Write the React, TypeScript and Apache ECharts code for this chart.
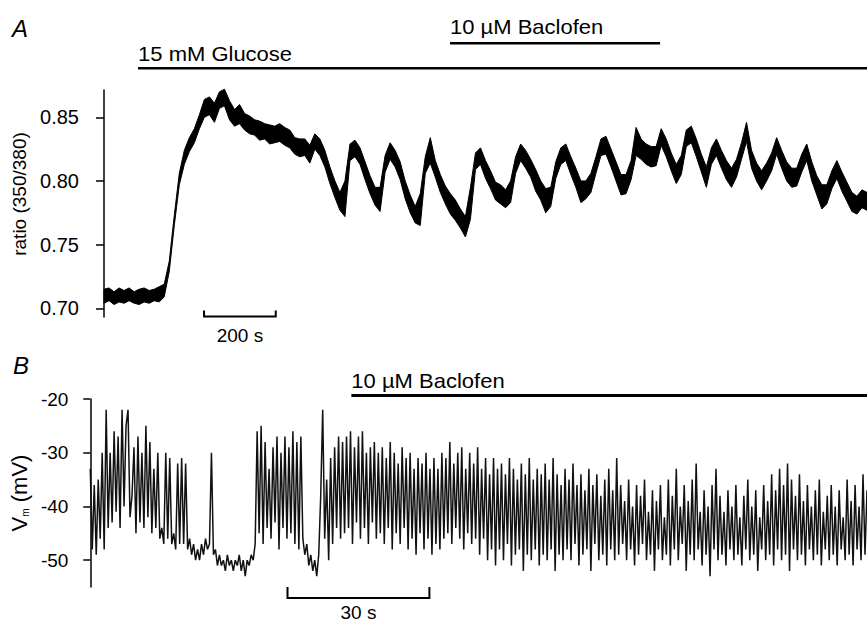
import React, { useEffect, useRef } from "react";
import * as echarts from "echarts";

// ---------- Panel A: Fura-2 ratio (350/380) ----------
const RATIO_DT = 14; // seconds between samples
// upper edge of the noisy trace
const RATIO_UPPER = [
  0.715, 0.716, 0.713, 0.716, 0.714, 0.716, 0.713, 0.715, 0.716, 0.714, 0.715, 0.717, 0.719,
  0.737, 0.773, 0.806, 0.824, 0.834, 0.841, 0.852, 0.864, 0.866, 0.861, 0.870, 0.872,
  0.863, 0.856, 0.860, 0.853, 0.851, 0.848, 0.847, 0.845, 0.844, 0.843, 0.845, 0.842, 0.840,
  0.834, 0.833, 0.833, 0.828, 0.837, 0.833, 0.824, 0.811, 0.800, 0.791, 0.800,
  0.829, 0.832, 0.826, 0.815, 0.804, 0.795, 0.795,
  0.820, 0.830, 0.824, 0.815, 0.800, 0.789, 0.780, 0.790,
  0.819, 0.834, 0.816, 0.805, 0.796, 0.790, 0.785, 0.778, 0.772, 0.795,
  0.822, 0.826, 0.816, 0.808, 0.799, 0.797, 0.793, 0.800,
  0.819, 0.829, 0.824, 0.817, 0.809, 0.800, 0.794, 0.795,
  0.815, 0.826, 0.829, 0.819, 0.810, 0.800, 0.800, 0.806,
  0.819, 0.833, 0.835, 0.825, 0.815, 0.805, 0.805, 0.816,
  0.842, 0.833, 0.829, 0.827, 0.827,
  0.841, 0.833, 0.822, 0.813, 0.820,
  0.840, 0.843, 0.833, 0.821, 0.811,
  0.826, 0.833, 0.824, 0.816, 0.810, 0.817, 0.830,
  0.846, 0.824, 0.814, 0.808, 0.814, 0.822, 0.834,
  0.824, 0.815, 0.810, 0.810, 0.821, 0.829,
  0.815, 0.804, 0.797, 0.797, 0.808, 0.816,
  0.807, 0.799, 0.791, 0.788, 0.793, 0.791,
];
// lower edge of the noisy trace
const RATIO_LOWER = [
  0.704, 0.706, 0.703, 0.705, 0.704, 0.706, 0.704, 0.703, 0.705, 0.704, 0.706, 0.705, 0.709,
  0.729, 0.765, 0.797, 0.813, 0.823, 0.830, 0.841, 0.850, 0.852, 0.846, 0.857, 0.859,
  0.848, 0.843, 0.845, 0.840, 0.837, 0.836, 0.832, 0.833, 0.829, 0.830, 0.831, 0.828, 0.826,
  0.821, 0.819, 0.820, 0.814, 0.825, 0.820, 0.811, 0.798, 0.787, 0.777, 0.772,
  0.816, 0.819, 0.813, 0.801, 0.790, 0.781, 0.776,
  0.807, 0.817, 0.811, 0.801, 0.786, 0.775, 0.767, 0.765,
  0.806, 0.814, 0.803, 0.791, 0.782, 0.774, 0.769, 0.763, 0.756, 0.770,
  0.809, 0.813, 0.802, 0.794, 0.785, 0.782, 0.779, 0.783,
  0.806, 0.816, 0.810, 0.803, 0.792, 0.785, 0.775, 0.780,
  0.802, 0.813, 0.816, 0.805, 0.795, 0.783, 0.786, 0.791,
  0.806, 0.820, 0.821, 0.811, 0.800, 0.789, 0.790, 0.801,
  0.820, 0.817, 0.813, 0.811, 0.812,
  0.828, 0.819, 0.808, 0.798, 0.805,
  0.827, 0.830, 0.819, 0.807, 0.795,
  0.813, 0.820, 0.810, 0.801, 0.795, 0.803, 0.817,
  0.831, 0.810, 0.800, 0.793, 0.800, 0.808, 0.821,
  0.810, 0.800, 0.795, 0.796, 0.807, 0.816,
  0.800, 0.789, 0.778, 0.782, 0.794, 0.802,
  0.792, 0.784, 0.776, 0.774, 0.779, 0.777,
];
const RATIO_TICKS = [0.7, 0.75, 0.8, 0.85];
const RATIO_MIN = 0.6932;
const RATIO_MAX = 0.8714;
const RATIO_T_START = -33.5; // axis begins a little before the recording
const RATIO_T_END = 2128;
const GLUCOSE_PERIOD = [95, 2128];
const BACLOFEN_A_PERIOD = [965, 1551];
const SCALE_A = [279, 479]; // 200 s

// ---------- Panel B: membrane potential ----------
const VM_DT = 0.42; // seconds between samples
const VM_VALUES = [
  -33, -48, -36, -49, -35, -46, -30, -48,
  -22, -44, -30, -43, -26, -41, -27, -44, -22, -40, -25, -22, -42, -38, -29, -45, -27, -43, -30, -44, -25, -42, -28, -45, -33, -44,
  -30, -46, -44, -47, -30, -46, -31, -47, -45, -48, -32, -47, -31,
  -47, -32, -48, -46, -49, -47, -50, -48, -50, -47, -49, -46, -48, -47, -30, -49, -48, -51, -49, -51,
  -50, -52, -49, -51, -50, -52, -50, -51, -49, -52, -50, -53, -50, -51, -49, -50, -47,
  -26, -45, -25, -47, -28, -44, -33, -46, -29, -43, -27, -48, -30, -44, -27, -46, -29, -45, -26, -47, -28, -48, -27,
  -46, -49, -47, -51, -49, -52, -50, -53, -49, -38,
  -22, -46, -35, -50, -31, -47, -29, -44, -27, -46, -28, -45, -27, -44, -26, -47, -29, -43, -27, -46,
  -26, -44, -30, -47, -29, -43, -28, -46, -30, -45, -29, -47, -31, -44, -28, -48, -30, -45, -32, -47,
  -29, -44, -31, -48, -30, -46, -33, -49, -31, -45, -32, -48, -30, -46, -33, -49, -31, -47, -33, -48,
  -30, -46,
  -31, -45, -28, -47, -32, -44, -30, -46, -29, -48, -33, -45, -30, -47, -32, -46, -29, -49, -33, -46,
  -31, -50, -34, -48, -31, -51, -33, -48, -32, -50, -34, -47, -31, -51, -33, -49, -35, -48, -32, -52,
  -34, -49, -31, -50, -35, -48, -33, -51, -34, -49, -32, -50, -35, -48, -31, -52, -34, -49, -36, -50,
  -33, -48, -35, -50, -32, -47, -36, -51, -34, -49, -37, -48, -33, -52, -36, -47, -34, -50, -38, -49,
  -35, -51, -33, -48, -37, -50, -31, -49, -36, -47, -39, -50, -35, -48, -40, -51, -36, -49, -38, -47,
  -35, -50, -41, -49, -37, -52, -39, -48, -36, -50, -42, -49, -35, -51, -38, -48, -33, -50, -40, -47,
  -36, -52, -39, -49, -35, -50, -32, -48, -41, -51, -37, -49, -40, -53, -36, -48, -33, -50, -38, -49,
  -41, -51, -37, -48, -40, -50, -36, -49, -42, -51, -38, -48, -35, -50, -40, -49, -37, -52, -42, -48,
  -36, -50, -39, -49, -34, -51, -37, -48, -33, -50, -36, -49, -32, -52, -35, -48, -38, -50, -34, -49,
  -39, -51, -36, -48, -40, -50, -37, -49, -35, -51, -41, -48, -38, -50, -36, -49, -40, -51, -37, -48,
  -42, -50, -35, -49, -39, -51, -36, -48, -40, -50, -34, -49, -37,
];
const VM_TICKS = [-20, -30, -40, -50];
const VM_MINOR_TICKS = [-25, -35, -45, -55];
const VM_MIN = -55;
const VM_MAX = -20;
const VM_T_START = -2.52; // axis begins a little before the recording
const VM_T_END = 164.22;
const BACLOFEN_B_PERIOD = [55.2, 164.22];
const SCALE_B = [41.7, 71.7]; // 30 s

const FONT = '"Liberation Sans", Arial, Helvetica, sans-serif';

function drugBar(label: string, yBar: number, yText: number, width: number) {
  return (params: any, api: any) => {
    const x0 = api.coord([api.value(0), api.value(1)])[0];
    const x1 = api.coord([api.value(1), api.value(1)])[0];
    return {
      type: "group",
      children: [
        {
          type: "line",
          shape: { x1: x0, y1: yBar, x2: x1, y2: yBar },
          style: { stroke: "#000", lineWidth: width },
        },
        {
          type: "text",
          x: x0,
          y: yText,
          scaleX: 1.1,
          style: {
            text: label,
            fill: "#000",
            fontSize: 20,
            fontFamily: FONT,
            align: "left",
            verticalAlign: "middle",
          },
        },
      ],
    };
  };
}

function scaleBar(label: string, yBar: number, tick: number, labelDy: number) {
  return (params: any, api: any) => {
    const x0 = api.coord([api.value(0), api.value(1)])[0];
    const x1 = api.coord([api.value(1), api.value(1)])[0];
    return {
      type: "group",
      children: [
        {
          type: "polyline",
          shape: {
            points: [
              [x0, yBar - tick],
              [x0, yBar],
              [x1, yBar],
              [x1, yBar - tick],
            ],
          },
          style: { stroke: "#000", lineWidth: 2, fill: null },
        },
        {
          type: "text",
          x: (x0 + x1) / 2,
          y: yBar + labelDy,
          style: {
            text: label,
            fill: "#000",
            fontSize: 19,
            fontFamily: FONT,
            align: "center",
            verticalAlign: "middle",
          },
        },
      ],
    };
  };
}

export default function App() {
  const ref = useRef<HTMLDivElement>(null);

  useEffect(() => {
    if (!ref.current) return;
    const chart = echarts.init(ref.current, null, { renderer: "svg" });

    const vmData = VM_VALUES.map((v, i) => [i * VM_DT, v]);

    const option: any = {
      animation: false,
      backgroundColor: "#fff",
      textStyle: { fontFamily: FONT },
      grid: [
        { left: 92, top: 90, width: 775, height: 227 },
        { left: 72, top: 399, width: 795, height: 188 },
      ],
      xAxis: [
        { type: "value", gridIndex: 0, min: RATIO_T_START, max: RATIO_T_END, show: false },
        { type: "value", gridIndex: 1, min: VM_T_START, max: VM_T_END, show: false },
      ],
      yAxis: [
        {
          type: "value",
          gridIndex: 0,
          min: RATIO_MIN,
          max: RATIO_MAX,
          axisLine: { show: true, lineStyle: { color: "#000", width: 1.5 } },
          axisTick: {
            show: true,
            length: 8,
            customValues: RATIO_TICKS,
            lineStyle: { color: "#000", width: 1.5 },
          },
          axisLabel: {
            customValues: RATIO_TICKS,
            formatter: (v: number) => v.toFixed(2),
            color: "#000",
            fontSize: 20,
            fontFamily: FONT,
            margin: 13,
          },
          splitLine: { show: false },
          name: "ratio (350/380)",
          nameLocation: "middle",
          nameRotate: 90,
          nameGap: 58,
          nameTextStyle: {
            color: "#000",
            fontSize: 19,
            fontFamily: FONT,
            padding: [0, 0, 0, 19],
          },
        },
        {
          type: "value",
          gridIndex: 1,
          min: VM_MIN,
          max: VM_MAX,
          axisLine: { show: true, lineStyle: { color: "#000", width: 1.5 } },
          axisTick: {
            show: true,
            length: 7,
            customValues: VM_TICKS,
            lineStyle: { color: "#000", width: 1.5 },
          },
          axisLabel: {
            customValues: VM_TICKS,
            color: "#000",
            fontSize: 19,
            fontFamily: FONT,
            margin: 10,
          },
          splitLine: { show: false },
          name: "{v|V}{s|m}{t| (mV)}",
          nameLocation: "middle",
          nameRotate: 90,
          nameGap: 45,
          nameTextStyle: {
            color: "#000",
            fontSize: 22,
            fontFamily: FONT,
            rich: {
              v: { fontSize: 22, fontFamily: FONT, color: "#000" },
              s: { fontSize: 10, fontFamily: FONT, color: "#000", verticalAlign: "bottom" },
              t: { fontSize: 22, fontFamily: FONT, color: "#000" },
            },
          },
        },
        {
          type: "value",
          gridIndex: 1,
          min: VM_MIN,
          max: VM_MAX,
          axisLine: { show: false },
          axisTick: {
            show: true,
            length: 4,
            customValues: VM_MINOR_TICKS,
            lineStyle: { color: "#000", width: 1.5 },
          },
          axisLabel: { show: false },
          splitLine: { show: false },
        },
      ],
      graphic: [
        {
          type: "text",
          x: 12,
          y: 28,
          style: {
            text: "A",
            fill: "#000",
            fontSize: 24,
            fontStyle: "italic",
            fontFamily: FONT,
            verticalAlign: "middle",
          },
        },
        {
          type: "text",
          x: 13,
          y: 365,
          style: {
            text: "B",
            fill: "#000",
            fontSize: 24,
            fontStyle: "italic",
            fontFamily: FONT,
            verticalAlign: "middle",
          },
        },
      ],
      series: [
        {
          type: "custom",
          name: "ratio",
          xAxisIndex: 0,
          yAxisIndex: 0,
          silent: true,
          clip: false,
          data: [[0, RATIO_UPPER[0]]],
          renderItem: (params: any, api: any) => {
            const up = RATIO_UPPER.map((v, i) => api.coord([i * RATIO_DT, v]));
            const lo = RATIO_LOWER.map((v, i) => api.coord([i * RATIO_DT, v])).reverse();
            return {
              type: "polygon",
              shape: { points: up.concat(lo) },
              style: { fill: "#000", stroke: "#000", lineWidth: 1 },
            };
          },
        },
        {
          type: "custom",
          name: "glucose",
          xAxisIndex: 0,
          yAxisIndex: 0,
          silent: true,
          clip: false,
          data: [GLUCOSE_PERIOD],
          renderItem: drugBar("15 mM Glucose", 68.3, 53.5, 2.5),
        },
        {
          type: "custom",
          name: "baclofenA",
          xAxisIndex: 0,
          yAxisIndex: 0,
          silent: true,
          clip: false,
          data: [BACLOFEN_A_PERIOD],
          renderItem: drugBar("10 µM Baclofen", 43.3, 26.5, 2.5),
        },
        {
          type: "custom",
          name: "scaleA",
          xAxisIndex: 0,
          yAxisIndex: 0,
          silent: true,
          clip: false,
          data: [SCALE_A],
          renderItem: scaleBar("200 s", 316.5, 6, 18.5),
        },
        {
          type: "line",
          name: "Vm",
          xAxisIndex: 1,
          yAxisIndex: 1,
          data: vmData,
          showSymbol: false,
          symbol: "none",
          clip: false,
          silent: true,
          lineStyle: { color: "#111", width: 1.5 },
        },
        {
          type: "custom",
          name: "baclofenB",
          xAxisIndex: 1,
          yAxisIndex: 1,
          silent: true,
          clip: false,
          data: [BACLOFEN_B_PERIOD],
          renderItem: drugBar("10 µM Baclofen", 395.5, 381, 3),
        },
        {
          type: "custom",
          name: "scaleB",
          xAxisIndex: 1,
          yAxisIndex: 1,
          silent: true,
          clip: false,
          data: [SCALE_B],
          renderItem: scaleBar("30 s", 598, 11, 14.5),
        },
      ],
    };

    chart.setOption(option);
    return () => chart.dispose();
  }, []);

  return (
    <div
      ref={ref}
      style={{ position: "fixed", left: 0, top: 0, width: 867, height: 624, background: "#fff" }}
    />
  );
}
